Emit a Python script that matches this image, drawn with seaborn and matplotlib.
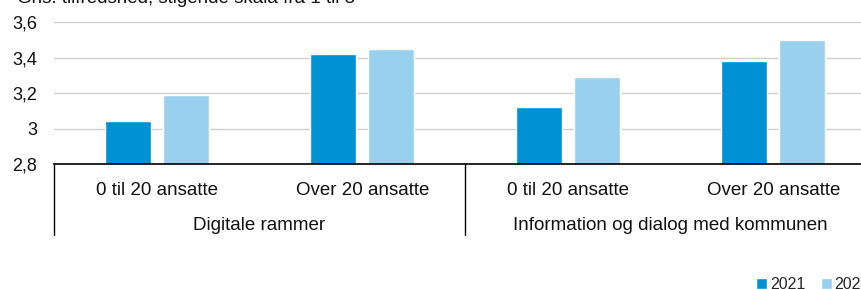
import numpy as np
import pandas as pd
import matplotlib
matplotlib.use("Agg")
import matplotlib.pyplot as plt
import matplotlib.transforms as mtransforms
import seaborn as sns

groups = ["Digitale rammer", "Information og dialog med kommunen"]
subcats = ["0 til 20 ansatte", "Over 20 ansatte"]
years = ["2021", "2022"]
vals_2021 = [3.04, 3.42, 3.12, 3.38]
vals_2022 = [3.19, 3.45, 3.29, 3.50]
title = "Gns. tilfredshed, stigende skala fra 1 til 5"

cats = [g + "|" + s for g in groups for s in subcats]
df = pd.DataFrame({
    "cat": cats * 2,
    "year": [years[0]] * 4 + [years[1]] * 4,
    "val": vals_2021 + vals_2022,
})

sns.set_theme(style="white")
plt.rcParams["font.family"] = ["Liberation Sans", "DejaVu Sans"]
FS = 13.5

fig = plt.figure(figsize=(8.62, 2.89), dpi=100)
ax = fig.add_axes([54 / 862, 1 - 164 / 289, 822 / 862, 142 / 289])

sns.barplot(data=df, x="cat", y="val", hue="year", ax=ax,
            palette=["#0091D5", "#99D0EE"], width=0.565, gap=0.2,
            saturation=1, errorbar=None, legend=True)

ax.set_ylim(2.8, 3.6)
ax.set_xlim(-0.5, 3.5)
ax.set_yticks([2.8, 3.0, 3.2, 3.4, 3.6])
ax.set_yticklabels(["2,8", "3", "3,2", "3,4", "3,6"], fontsize=13, color="#111111")
ax.yaxis.grid(True, color="#d0d0d0", linewidth=1)
ax.set_axisbelow(True)
ax.tick_params(axis="y", length=0, pad=12)
ax.set_xticks(range(4))
ax.set_xticklabels([])
ax.tick_params(axis="x", length=0)
ax.set_xlabel("")
ax.set_ylabel("")
for s in ["left", "right", "top"]:
    ax.spines[s].set_visible(False)
ax.spines["bottom"].set_color("black")
ax.spines["bottom"].set_linewidth(1.2)

trans = mtransforms.blended_transform_factory(ax.transData, ax.transAxes)
for i, c in enumerate(cats):
    ax.text(i, -31 / 142, c.split("|")[1], transform=trans, ha="center",
            va="baseline", fontsize=FS, color="#111111")
for i, g in enumerate(groups):
    ax.text(2 * i + 0.5, -66 / 142, g, transform=trans, ha="center",
            va="baseline", fontsize=FS, color="#111111")
for xs in [-0.5, 1.5, 3.5]:
    ax.plot([xs, xs], [0, -0.5], transform=trans, color="black",
            linewidth=1, clip_on=False)

handles, labels = ax.get_legend_handles_labels()
ax.get_legend().remove()
fig.legend(handles, labels, loc="lower left", bbox_to_anchor=(742 / 862, -0.06),
           ncol=2, frameon=False, fontsize=11.5, handlelength=0.65, handleheight=0.65,
           handletextpad=0.2, columnspacing=1.0)

fig.text(17 / 862, 1 - 3 / 289, title, ha="left", va="baseline",
         fontsize=FS, color="#111111")

fig.savefig("out.png", dpi=100)
